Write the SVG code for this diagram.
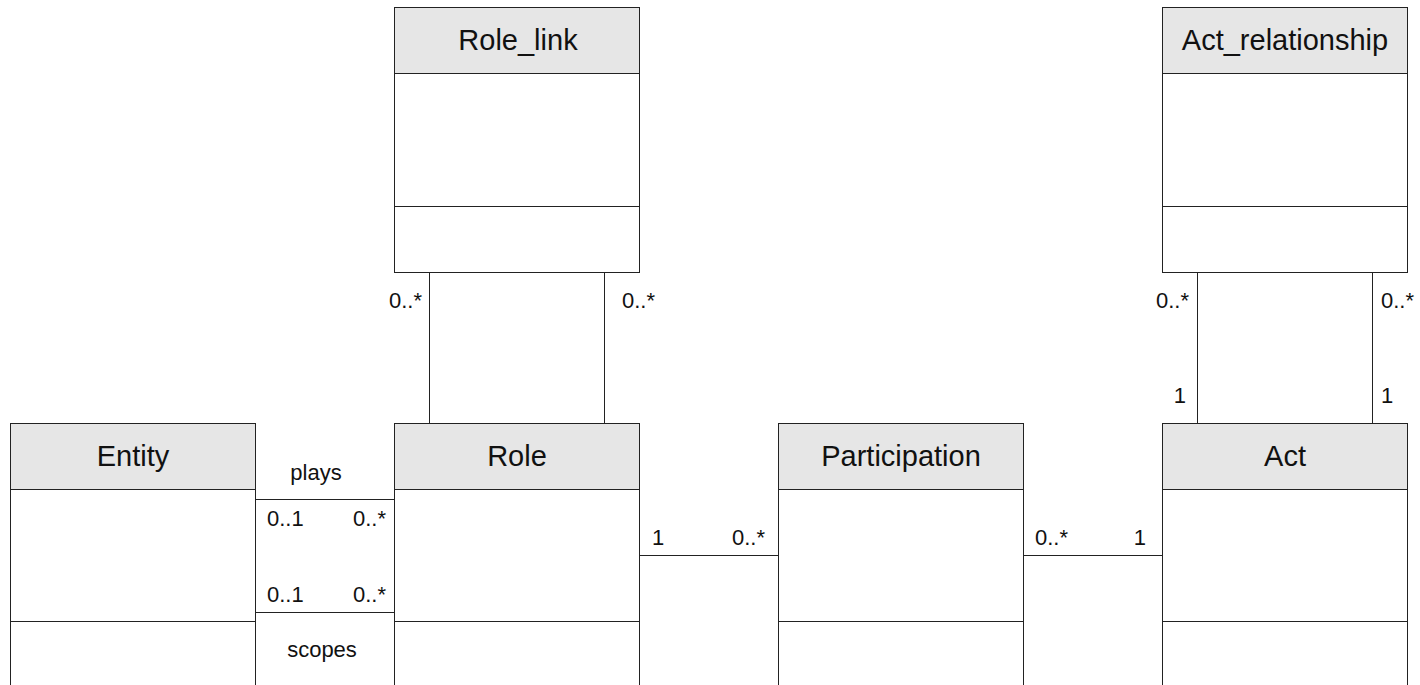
<svg xmlns="http://www.w3.org/2000/svg" width="1420" height="685" viewBox="0 0 1420 685">
  <style>
    .box { fill: #ffffff; stroke: #222222; stroke-width: 1; }
    .head { fill: #e6e6e6; stroke: #222222; stroke-width: 1; }
    .sep { stroke: #222222; stroke-width: 1; }
    .title { font-family: "Liberation Sans", Arial, sans-serif; font-size: 29px; fill: #111111; text-anchor: middle; }
    .lbl { font-family: "Liberation Sans", Arial, sans-serif; font-size: 22px; fill: #111111; }
    .end { text-anchor: end; }
    .mid { text-anchor: middle; }
    .conn { stroke: #222222; stroke-width: 1; fill: none; }
  </style>
  <rect width="1420" height="685" fill="#ffffff"/>

  <!-- associations -->
  <g id="connectors">
    <line class="conn" x1="255" y1="499.5" x2="394" y2="499.5"/>
    <line class="conn" x1="255" y1="612.5" x2="394" y2="612.5"/>
    <line class="conn" x1="639" y1="555.5" x2="778" y2="555.5"/>
    <line class="conn" x1="1023" y1="555.5" x2="1162" y2="555.5"/>
    <line class="conn" x1="429.5" y1="272" x2="429.5" y2="423"/>
    <line class="conn" x1="604.5" y1="272" x2="604.5" y2="423"/>
    <line class="conn" x1="1197.5" y1="272" x2="1197.5" y2="423"/>
    <line class="conn" x1="1372.5" y1="272" x2="1372.5" y2="423"/>

    <text class="lbl mid" x="316" y="480">plays</text>
    <text class="lbl" x="267" y="526">0..1</text>
    <text class="lbl end" x="386" y="526">0..*</text>
    <text class="lbl" x="267" y="602">0..1</text>
    <text class="lbl end" x="386" y="602">0..*</text>
    <text class="lbl mid" x="322" y="657">scopes</text>

    <text class="lbl" x="652" y="545">1</text>
    <text class="lbl end" x="765" y="545">0..*</text>
    <text class="lbl" x="1035" y="545">0..*</text>
    <text class="lbl end" x="1146" y="545">1</text>

    <text class="lbl end" x="422" y="308">0..*</text>
    <text class="lbl" x="622" y="308">0..*</text>
    <text class="lbl end" x="1189" y="308">0..*</text>
    <text class="lbl" x="1381" y="308">0..*</text>
    <text class="lbl end" x="1186" y="403">1</text>
    <text class="lbl" x="1381" y="403">1</text>
  </g>

  <!-- classes -->
  <g id="role_link">
    <rect class="box" x="394.5" y="7.5" width="245" height="265"/>
    <rect class="head" x="394.5" y="7.5" width="245" height="66"/>
    <line class="sep" x1="394.5" y1="206.5" x2="639.5" y2="206.5"/>
    <text class="title" x="518" y="50">Role_link</text>
  </g>

  <g id="act_relationship">
    <rect class="box" x="1162.5" y="7.5" width="245" height="265"/>
    <rect class="head" x="1162.5" y="7.5" width="245" height="66"/>
    <line class="sep" x1="1162.5" y1="206.5" x2="1407.5" y2="206.5"/>
    <text class="title" x="1285" y="50">Act_relationship</text>
  </g>

  <g id="entity">
    <rect class="box" x="10.5" y="423.5" width="245" height="280"/>
    <rect class="head" x="10.5" y="423.5" width="245" height="66"/>
    <line class="sep" x1="10.5" y1="621.5" x2="255.5" y2="621.5"/>
    <text class="title" x="133" y="466">Entity</text>
  </g>

  <g id="role">
    <rect class="box" x="394.5" y="423.5" width="245" height="280"/>
    <rect class="head" x="394.5" y="423.5" width="245" height="66"/>
    <line class="sep" x1="394.5" y1="621.5" x2="639.5" y2="621.5"/>
    <text class="title" x="517" y="466">Role</text>
  </g>

  <g id="participation">
    <rect class="box" x="778.5" y="423.5" width="245" height="280"/>
    <rect class="head" x="778.5" y="423.5" width="245" height="66"/>
    <line class="sep" x1="778.5" y1="621.5" x2="1023.5" y2="621.5"/>
    <text class="title" x="901" y="466">Participation</text>
  </g>

  <g id="act">
    <rect class="box" x="1162.5" y="423.5" width="245" height="280"/>
    <rect class="head" x="1162.5" y="423.5" width="245" height="66"/>
    <line class="sep" x1="1162.5" y1="621.5" x2="1407.5" y2="621.5"/>
    <text class="title" x="1285" y="466">Act</text>
  </g>
</svg>
